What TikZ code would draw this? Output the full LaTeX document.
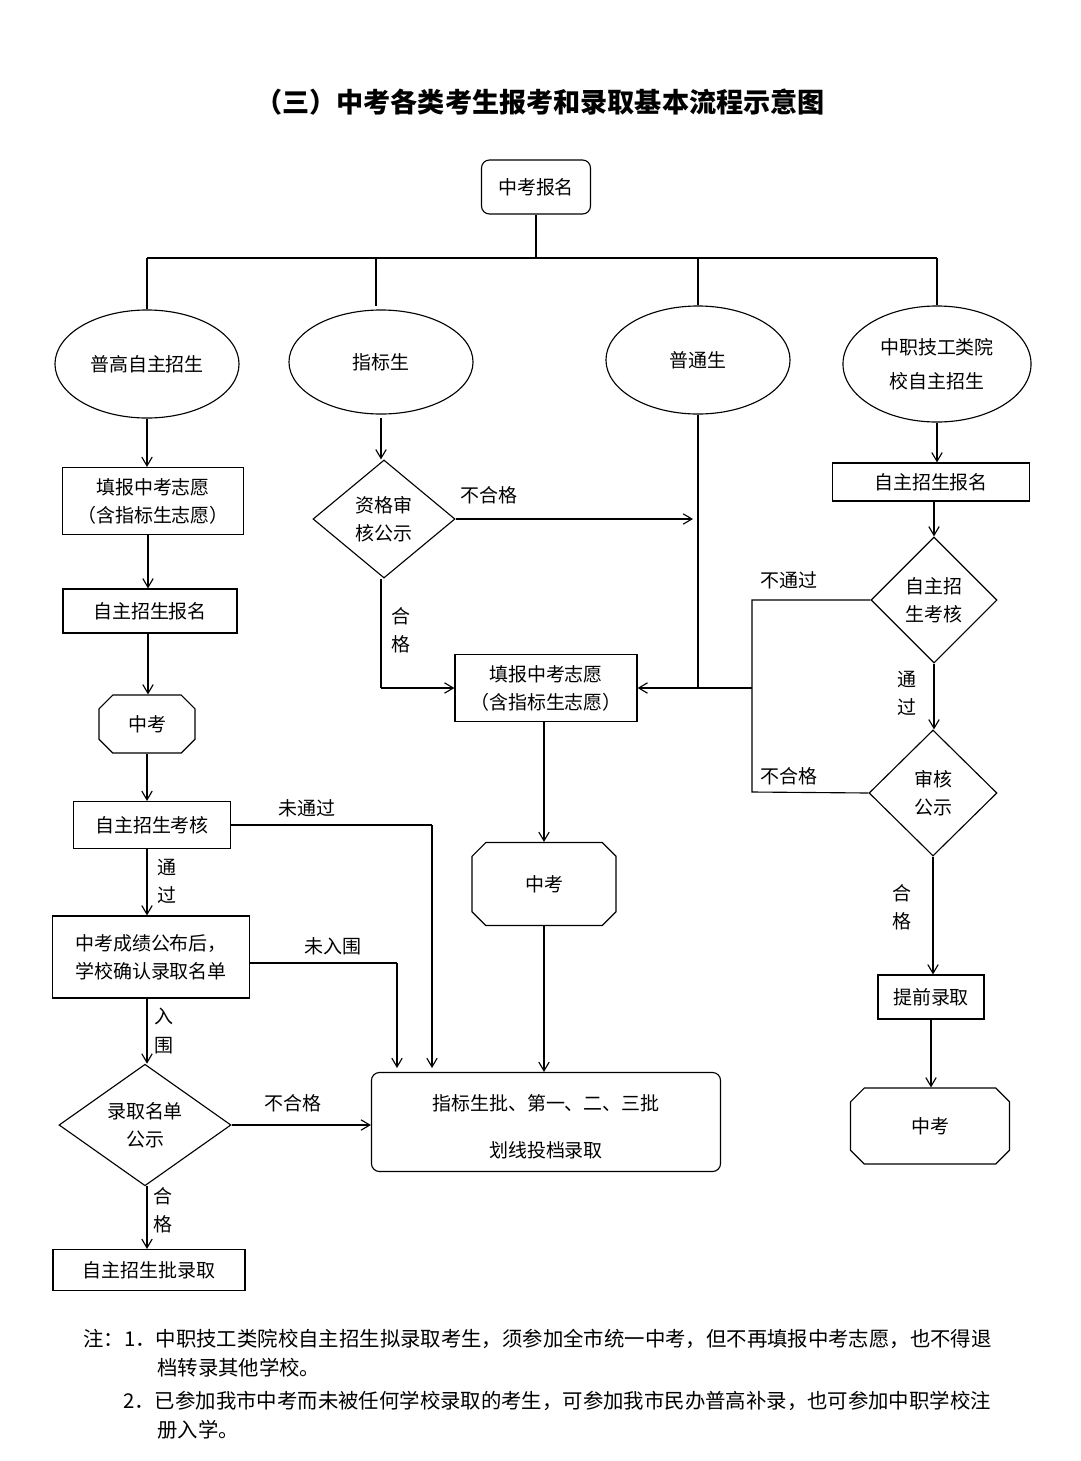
\documentclass[tikz,border=0pt]{standalone}
\usepackage{fontspec}
\setmainfont{Noto Sans CJK SC}
\usetikzlibrary{positioning, arrows.meta, shapes.geometric, shapes.misc}

\begin{document}
\begin{tikzpicture}[
    x=0.025cm, y=-0.025cm,
    >={Straight Barb[length=2.2mm,width=2.6mm]},
    line width=0.8pt,
    every node/.style={font=\fontsize{13.5}{20}\selectfont},
    box/.style={rectangle, draw, inner sep=0pt, align=center},
    rbox/.style={box, rounded corners=2mm},
    oval/.style={ellipse, draw, inner sep=0pt, align=center, minimum width=4.6cm, minimum height=2.7cm},
    judge/.style={diamond, draw, inner sep=0pt, align=center},
    exam/.style={chamfered rectangle, chamfered rectangle xsep=0.5cm, draw, inner sep=0pt},
    lbl/.style={inner sep=1pt, align=center},
    note/.style={anchor=west, font=\fontsize{14.5}{20}\selectfont}
]
    \useasboundingbox (0,0) rectangle (1080,1461);

    % --- Titulo ---
    \node[font=\fontsize{19.3}{24}\selectfont\bfseries] (title) at (540,102) {（三）中考各类考生报考和录取基本流程示意图};

    % --- Topo ---
    \node[rbox, minimum width=2.725cm, minimum height=1.35cm] (reg) at (536,187) {中考报名};
    \node[oval] (pg) at (147,364) {普高自主招生};
    \node[oval, minimum height=2.6cm] (zb) at (381,362) {指标生};
    \node[oval] (pt) at (698,360) {普通生};
    \node[oval, minimum width=4.7cm, minimum height=2.9cm] (zz) at (937,364) {中职技工类院\\[4pt]校自主招生};

    \coordinate (bus) at (536,258);
    \draw (reg) -- (bus);
    \draw (pg.north |- bus) -- (zz.north |- bus);
    \draw (pg.north |- bus) -- (pg.north);
    \draw (376,258) -- (376,306);
    \draw (pt.north |- bus) -- (pt.north);
    \draw (zz.north |- bus) -- (zz.north);

    % --- Coluna esquerda ---
    \node[box, minimum width=4.525cm, minimum height=1.675cm] (fill1) at (153,501) {填报中考志愿\\（含指标生志愿）};
    \node[box, minimum width=4.35cm, minimum height=1.1cm] (sign1) at (150,611) {自主招生报名};
    \node[exam, minimum width=2.4cm, minimum height=1.45cm] (exam1) at (147,724) {中考};
    \node[box, minimum width=3.925cm, minimum height=1.175cm] (test1) at (152,825) {自主招生考核};
    \node[box, minimum width=4.925cm, minimum height=2.05cm] (list1) at (151,957) {中考成绩公布后，\\学校确认录取名单};
    \node[judge, minimum width=4.3cm, minimum height=3cm] (pub1) at (145,1125) {录取名单\\公示};
    \node[box, minimum width=4.8cm, minimum height=1.025cm] (adm1) at (149,1270) {自主招生批录取};

    \draw[->] (pg.south -| 147,0) -- (fill1.north -| 147,0);
    \draw[->] (fill1.south -| 148,0) -- (sign1.north -| 148,0);
    \draw[->] (sign1.south -| 148,0) -- (exam1.north -| 148,0);
    \draw[->] (exam1.south -| 147,0) -- (test1.north -| 147,0);
    \draw[->] (test1.south -| 147,0) -- (list1.north -| 147,0);
    \node[lbl] (l_tg1) at (167,881) {通\\过};
    \draw[->] (list1.south -| 147,0) -- (pub1.north -| 147,0);
    \node[lbl] (l_rw) at (164,1031) {入\\围};
    \draw[->] (pub1.south -| 147,0) -- (adm1.north -| 147,0);
    \node[lbl] (l_hg1) at (163,1210) {合\\格};

    % --- Caixa de lote ---
    \node[rbox, minimum width=8.725cm, minimum height=2.475cm] (batch) at (546,1122) {};
    \node (batch1) at (546,1103) {指标生批、第一、二、三批};
    \node (batch2) at (546,1150) {划线投档录取};

    \coordinate (c_wtg) at (432,825);
    \draw (test1.east) -- (c_wtg);
    \draw[->] (c_wtg) -- (432,1068);
    \node[lbl] (l_wtg) at (307,808) {未通过};
    \coordinate (c_wrw) at (397,963);
    \draw (list1.east |- c_wrw) -- (c_wrw);
    \draw[->] (c_wrw) -- (397,1068);
    \node[lbl] (l_wrw) at (333,946) {未入围};
    \draw[->] (pub1.east) -- (batch.west |- pub1.east);
    \node[lbl] (l_bhg1) at (293,1103) {不合格};

    % --- Coluna central ---
    \node[judge, minimum width=3.55cm, minimum height=2.95cm] (chk) at (384,519) {资格审\\核公示};
    \node[box, minimum width=4.55cm, minimum height=1.675cm] (fill2) at (546,688) {填报中考志愿\\（含指标生志愿）};
    \node[exam, chamfered rectangle xsep=0.6cm, minimum width=3.6cm, minimum height=2.075cm] (exam2) at (544,884) {中考};

    \draw[->] (381,418) -- (chk.north -| 381,0);
    \draw[->] (chk.east) -- (693,519);
    \node[lbl] (l_bhg2) at (489,495) {不合格};
    \coordinate (c_hg) at (381,688);
    \draw (chk.south -| 381,0) -- (c_hg);
    \draw[->] (c_hg) -- (fill2.west);
    \node[lbl] (l_hg2) at (401,630) {合\\格};
    \coordinate (c_pt) at (698,688);
    \draw (pt.south) -- (c_pt);
    \draw[->] (fill2.south -| 544,0) -- (exam2.north);
    \draw[->] (exam2.south) -- (batch.north -| 544,0);

    % --- Coluna direita ---
    \node[box, minimum width=4.925cm, minimum height=0.95cm] (sign2) at (931,482) {自主招生报名};
    \node[judge, minimum width=3.15cm, minimum height=3.15cm] (test2) at (934,600) {自主招\\生考核};
    \node[judge, minimum width=3.2cm, minimum height=3.15cm] (pub2) at (933,793) {审核\\公示};
    \node[box, minimum width=2.65cm, minimum height=1.1cm] (early) at (931,997) {提前录取};
    \node[exam, chamfered rectangle xsep=0.6cm, minimum width=3.975cm, minimum height=1.9cm] (exam3) at (930,1126) {中考};

    \draw[->] (zz.south -| 937,0) -- (sign2.north -| 937,0);
    \draw[->] (sign2.south -| 934,0) -- (test2.north);
    \draw[->] (test2.south) -- (pub2.north -| 934,0);
    \node[lbl] (l_tg2) at (907,693) {通\\过};
    \draw[->] (pub2.south) -- (early.north -| 933,0);
    \node[lbl] (l_hg3) at (902,907) {合\\格};
    \draw[->] (early.south -| 931,0) -- (exam3.north -| 931,0);

    \coordinate (c_bt) at (752,600);
    \coordinate (c_bh) at (752,792);
    \coordinate (c_mid) at (752,688);
    \draw (test2.west) -- (c_bt) -- (c_bh) -- (pub2.west);
    \draw[->] (c_mid) -- (fill2.east);
    \node[lbl] (l_btg) at (789,580) {不通过};
    \node[lbl] (l_bhg3) at (789,776) {不合格};

    % --- Notas ---
    \node[note] (n1) at (78,1339) {注：1．中职技工类院校自主招生拟录取考生，须参加全市统一中考，但不再填报中考志愿，也不得退};
    \node[note] (n2) at (152,1368) {档转录其他学校。};
    \node[note] (n3) at (118,1401) {2．已参加我市中考而未被任何学校录取的考生，可参加我市民办普高补录，也可参加中职学校注};
    \node[note] (n4) at (152,1430) {册入学。};
\end{tikzpicture}
\end{document}
